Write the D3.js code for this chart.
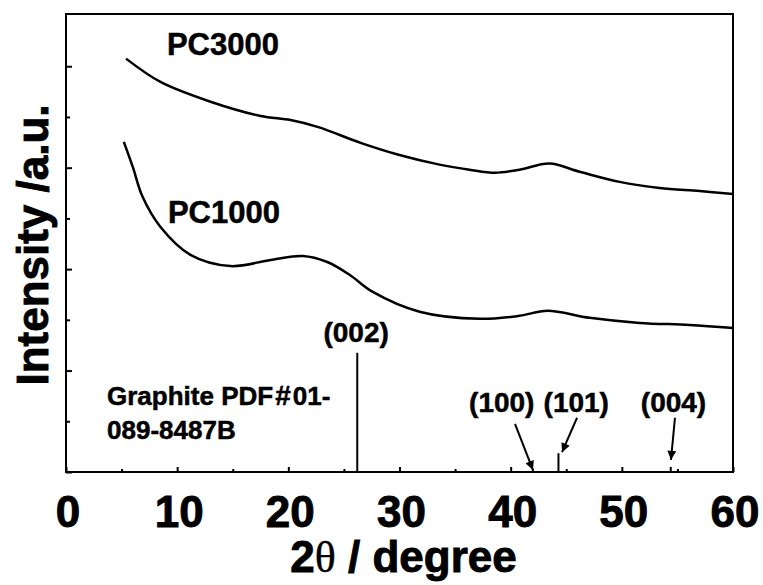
<!DOCTYPE html>
<html>
<head>
<meta charset="utf-8">
<script src="https://cdn.jsdelivr.net/npm/d3@7"></script>
<style>
  body { margin: 0; background: #fff; }
  text { font-family: Arial, "Liberation Sans", sans-serif; font-weight: bold; fill: #000; stroke: #000; stroke-width: 0.5px; }
  text.big { stroke-width: 0.9px; }
</style>
</head>
<body>
<div id="app"></div>
<script>
// PC3000 curve (2theta, intensity a.u.)
let pc3000X = [5.4, 8.5, 13.0, 17.5, 20.2, 22.7, 26.5, 30.0, 33.6, 36.3, 38.6, 40.8, 43.5, 46.2, 49.8, 53.4, 57.0, 60];
let pc3000Y = [8.15, 7.69, 7.30, 7.02, 6.94, 6.80, 6.49, 6.25, 6.06, 5.96, 5.90, 5.96, 6.08, 5.92, 5.72, 5.60, 5.54, 5.48];

// PC1000 curve
let pc1000X = [5.2, 6.0, 6.9, 8.5, 11.2, 14.8, 18.4, 21.3, 23.5, 25.5, 27.6, 31.8, 37.2, 40.8, 43.3, 47.1, 51.6, 56.1, 60];
let pc1000Y = [6.51, 6.02, 5.42, 4.83, 4.28, 4.06, 4.18, 4.26, 4.14, 3.89, 3.55, 3.16, 3.02, 3.08, 3.18, 3.04, 2.94, 2.90, 2.84];

// graphite reference sticks
let peakLabels = ['(002)', '(100)', '(101)', '(004)'];
let peakPos = [26.2, 42.0, 44.3, 54.4];
let peakHeight = [2.35, 0.06, 0.37, 0.10];

let xTicks = [0, 10, 20, 30, 40, 50, 60];

let margin = { top: 14, right: 30, bottom: 113, left: 66 };
let width = 763 - margin.left - margin.right;
let height = 585 - margin.top - margin.bottom;

let xScale = d3.scaleLinear().domain([0, 60]).range([0, width]);
let yScale = d3.scaleLinear().domain([0, 9.03]).range([height, 0]);

let svg = d3.select('#app').append('svg')
    .attr('width', 763)
    .attr('height', 585);

svg.append('defs').append('marker')
    .attr('id', 'head')
    .attr('viewBox', '0 0 10 10')
    .attr('refX', 10).attr('refY', 5)
    .attr('markerWidth', 11).attr('markerHeight', 9)
    .attr('markerUnits', 'userSpaceOnUse')
    .attr('orient', 'auto')
  .append('path')
    .attr('d', 'M0,0 L10,5 L0,10 Z')
    .style('fill', '#000');

let chart = svg.append('g')
    .attr('transform', `translate(${margin.left}, ${margin.top})`);

// axes, ticks pointing in
let xMajor = d3.axisBottom(xScale).tickValues(xTicks).tickSize(-5).tickFormat('');
let xMinor = d3.axisBottom(xScale).tickValues(d3.range(5, 60, 10)).tickSize(-3).tickFormat('');
let yMajor = d3.axisLeft(yScale).tickValues([0, 2, 4, 6, 8]).tickSize(-6).tickFormat('');
let yMinor = d3.axisLeft(yScale).tickValues([1, 3, 5, 7]).tickSize(-4).tickFormat('');

[xMajor, xMinor].forEach(function(ax) {
  chart.append('g').attr('transform', `translate(0, ${height})`).call(ax);
});
[yMajor, yMinor].forEach(function(ax) {
  chart.append('g').call(ax);
});
chart.selectAll('.domain').remove();
chart.selectAll('.tick line').style('stroke', '#000').style('stroke-width', 2);

// frame
chart.append('rect')
    .attr('width', width).attr('height', height)
    .style('fill', 'none').style('stroke', '#000').style('stroke-width', 2);

// tick labels
chart.selectAll('.xlab')
  .data(xTicks)
  .enter()
  .append('text')
    .attr('class', 'big')
    .attr('x', function(d) { return xScale(d) + 2; })
    .attr('y', height + 55)
    .attr('text-anchor', 'middle')
    .style('font-size', '44px')
    .text(function(d) { return d; });

// axis titles
let xTitle = svg.append('text')
    .attr('class', 'big')
    .attr('x', margin.left + width / 2 + 4)
    .attr('y', 572)
    .attr('text-anchor', 'middle')
    .style('font-size', '44px');
xTitle.append('tspan').text('2');
xTitle.append('tspan').style('font-family', '"Liberation Serif", serif').style('font-weight', 'normal').style('stroke-width', '0.4px').text('θ');
xTitle.append('tspan').text(' / degree');

svg.append('text')
    .attr('class', 'big')
    .attr('transform', 'translate(48, 245) rotate(-90)')
    .attr('text-anchor', 'middle')
    .style('font-size', '44px')
    .text('Intensity /a.u.');

// curves
let line = d3.line()
    .x(function(d) { return xScale(d[0]); })
    .y(function(d) { return yScale(d[1]); })
    .curve(d3.curveCatmullRom);

[[pc3000X, pc3000Y], [pc1000X, pc1000Y]].forEach(function(s) {
  chart.append('path')
      .datum(s[0].map(function(x, i) { return [x, s[1][i]]; }))
      .attr('d', line)
      .style('fill', 'none')
      .style('stroke', '#000')
      .style('stroke-width', 2.5);
});

chart.append('text').attr('x', xScale(9.08)).attr('y', yScale(8.22))
    .style('font-size', '31px').text('PC3000');
chart.append('text').attr('x', xScale(9.17)).attr('y', yScale(4.91))
    .style('font-size', '31px').text('PC1000');

// reference sticks
chart.selectAll('.stick')
  .data(peakPos)
  .enter()
  .append('line')
    .attr('x1', function(d) { return xScale(d); })
    .attr('x2', function(d) { return xScale(d); })
    .attr('y1', yScale(0))
    .attr('y2', function(d, i) { return yScale(peakHeight[i]); })
    .style('stroke', '#000')
    .style('stroke-width', 2);

// peak labels
let labelX = [26.1, 39.2, 45.9, 54.65];
let labelY = [2.56, 1.18, 1.18, 1.18];
chart.selectAll('.plab')
  .data(peakLabels)
  .enter()
  .append('text')
    .attr('x', function(d, i) { return xScale(labelX[i]); })
    .attr('y', function(d, i) { return yScale(labelY[i]); })
    .attr('text-anchor', 'middle')
    .style('font-size', '28px')
    .text(function(d) { return d; });

// arrows to the weak peaks
let arrowFrom = [[40.39, 0.95], [45.97, 1.07], [54.78, 1.07]];
let arrowTo = [[42.0, 0.04], [44.62, 0.39], [54.42, 0.24]];
chart.selectAll('.arrow')
  .data(arrowFrom)
  .enter()
  .append('line')
    .attr('x1', function(d) { return xScale(d[0]); })
    .attr('y1', function(d) { return yScale(d[1]); })
    .attr('x2', function(d, i) { return xScale(arrowTo[i][0]); })
    .attr('y2', function(d, i) { return yScale(arrowTo[i][1]); })
    .attr('marker-end', 'url(#head)')
    .style('stroke', '#000')
    .style('stroke-width', 2);

// reference card label
let card = chart.append('text').attr('x', xScale(3.69)).attr('y', yScale(1.32))
    .style('font-size', '26px');
card.append('tspan').text('Graphite PDF');
card.append('tspan').attr('dx', 2).style('font-size', '28px').text('#');
card.append('tspan').attr('dx', 2).text('01-');
chart.append('text').attr('x', xScale(3.69)).attr('y', yScale(0.65))
    .style('font-size', '26px').text('089-8487B');
</script>
</body>
</html>
